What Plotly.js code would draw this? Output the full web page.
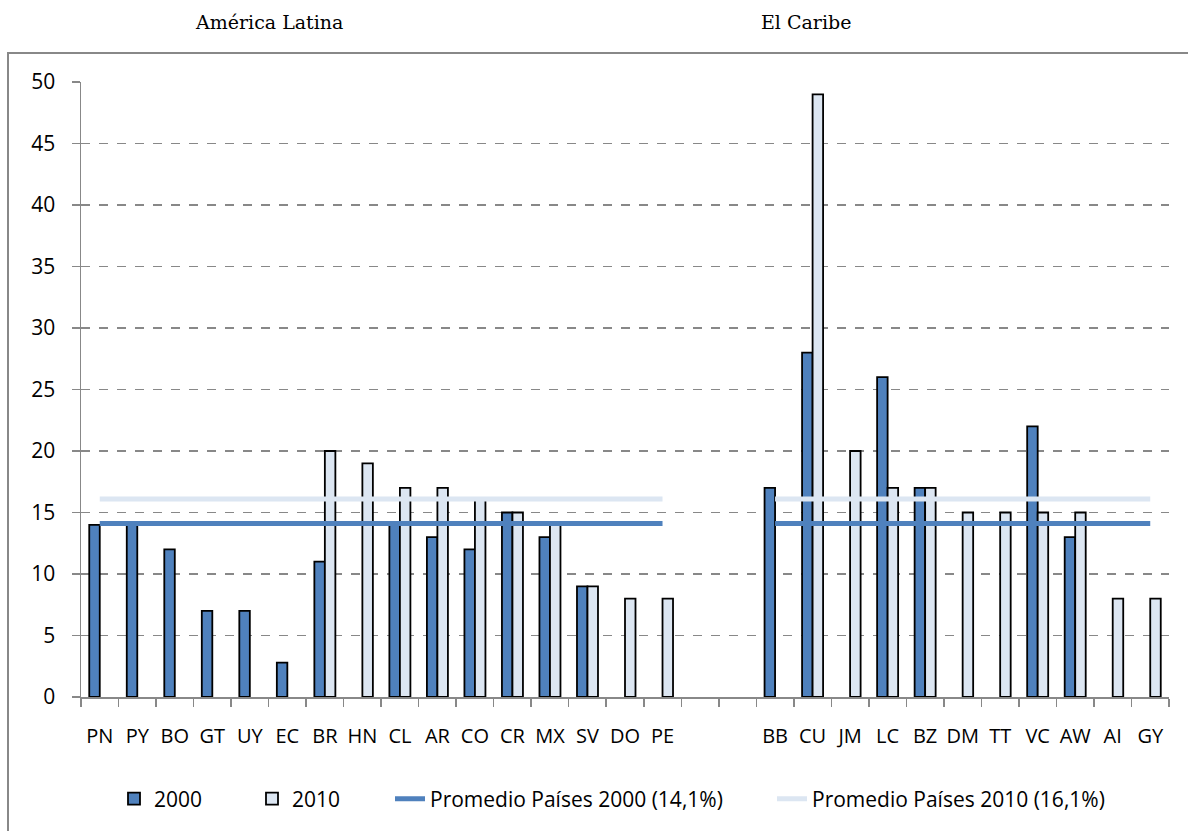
<!DOCTYPE html>
<html>
<head>
<meta charset="utf-8">
<script src="https://cdn.plot.ly/plotly-3.0.1.min.js"></script>
<style>
html,body{margin:0;padding:0;background:#fff;}
#chart{width:1188px;height:831px;}
</style>
</head>
<body>
<div id="chart"></div>
<script>
const categories = ['PN','PY','BO','GT','UY','EC','BR','HN','CL','AR','CO','CR','MX','SV','DO','PE',' ','  ','BB','CU','JM','LC','BZ','DM','TT','VC','AW','AI','GY'];
const values2000 = [14,14,12,7,7,2.8,11,null,14,13,12,15,13,9,null,null,null,null,17,28,null,26,17,null,null,22,13,null,null];
const values2010 = [null,null,null,null,null,null,20,19,17,17,16,15,14,9,8,8,null,null,null,49,20,17,17,15,15,15,15,8,8];
const latamRange = ['PN','PE'];
const caribeRange = ['BB','GY'];
const avg2000 = 14.1;
const avg2010 = 16.1;
const groupTitles = ['América Latina','El Caribe'];
const legendNames = ['2000','2010','Promedio Países 2000 (14,1%)','Promedio Países 2010 (16,1%)'];

const dark = '#4F81BD';
const light = '#DCE6F2';
const gray = '#888888';
const FONT = '"Open Sans", "Noto Sans", sans-serif';

const traces = [
  {type:'bar', x:categories, y:values2000, name:legendNames[0], legend:'legend',
   marker:{color:dark, line:{color:'#000', width:1.8}}},
  {type:'bar', x:categories, y:values2010, name:legendNames[1], legend:'legend2',
   marker:{color:light, line:{color:'#000', width:1.8}}},
  {type:'scatter', mode:'lines', x:latamRange, y:[avg2000,avg2000], name:legendNames[2],
   legend:'legend3', legendgroup:'a2000', line:{color:dark, width:5}},
  {type:'scatter', mode:'lines', x:caribeRange, y:[avg2000,avg2000], name:legendNames[2],
   legend:'legend3', legendgroup:'a2000', showlegend:false, line:{color:dark, width:5}},
  {type:'scatter', mode:'lines', x:latamRange, y:[avg2010,avg2010], name:legendNames[3],
   legend:'legend4', legendgroup:'a2010', line:{color:light, width:5}},
  {type:'scatter', mode:'lines', x:caribeRange, y:[avg2010,avg2010], name:legendNames[3],
   legend:'legend4', legendgroup:'a2010', showlegend:false, line:{color:light, width:5}}
];

function px2paperX(px){ return (px-81)/1088; }
const legY = -0.1659;
function leg(xpx){
  return {orientation:'h', x:px2paperX(xpx), xanchor:'left', y:legY, yanchor:'middle',
          font:{family:FONT, size:21, color:'#000'}, bgcolor:'rgba(0,0,0,0)', borderwidth:0};
}

const layout = {
  width:1188, height:831,
  margin:{l:81, r:19, t:82, b:134},
  paper_bgcolor:'#fff', plot_bgcolor:'#fff',
  font:{family:FONT, size:21, color:'#000'},
  barmode:'group', bargap:0.44, bargroupgap:0,
  showlegend:true,
  legend:leg(114),
  legend2:leg(252),
  legend3:leg(390),
  legend4:leg(772),
  xaxis:{type:'category', categoryorder:'array', categoryarray:categories,
         range:[-0.5, categories.length-0.5], tickangle:0,
         showline:true, linecolor:gray, linewidth:1.5,
         ticks:'outside', tickson:'boundaries', ticklen:8, tickcolor:gray, tickwidth:1.5,
         ticklabelstandoff:20,
         tickfont:{family:FONT, size:20},
         showgrid:false, zeroline:false, fixedrange:true},
  yaxis:{range:[0,50], dtick:5, tick0:0,
         showline:true, linecolor:gray, linewidth:1.5,
         ticks:'outside', ticklen:8, tickcolor:gray, tickwidth:1.5,
         ticklabelstandoff:12,
         tickfont:{family:FONT, size:21},
         showgrid:true, gridcolor:gray, griddash:'dash', gridwidth:1.3,
         zeroline:false, fixedrange:true},
  annotations:[
    {text:groupTitles[0], xref:'paper', yref:'paper', x:px2paperX(269), y:1.0976,
     showarrow:false, xanchor:'center', yanchor:'middle',
     font:{family:'"DejaVu Serif", serif', size:19, color:'#000'}},
    {text:groupTitles[1], xref:'paper', yref:'paper', x:px2paperX(806), y:1.0976,
     showarrow:false, xanchor:'center', yanchor:'middle',
     font:{family:'"DejaVu Serif", serif', size:19, color:'#000'}}
  ],
  shapes:[
    {type:'rect', xref:'paper', yref:'paper', x0:px2paperX(8), x1:1.05, y0:-0.25, y1:(697-53)/615,
     line:{color:gray, width:2}, fillcolor:'rgba(0,0,0,0)', layer:'below'}
  ]
};

Plotly.newPlot('chart', traces, layout, {displayModeBar:false, staticPlot:true});
</script>
</body>
</html>
